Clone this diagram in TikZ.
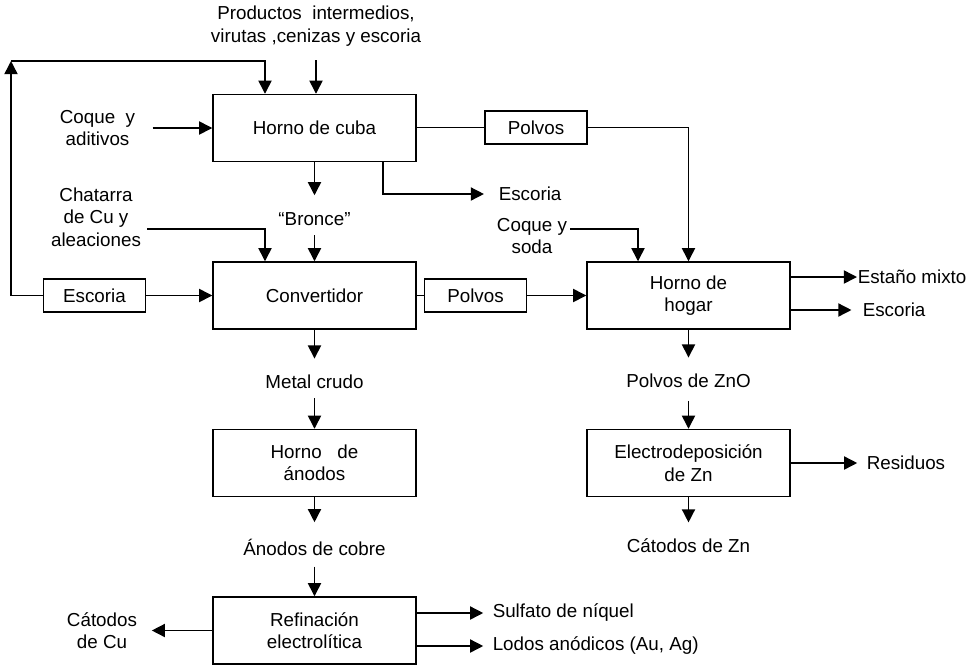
\documentclass[tikz,border=0pt]{standalone}
\usepackage{fontspec}
\setmainfont{Liberation Sans}
\usetikzlibrary{arrows.meta,positioning}

\tikzset{
	proc/.style={draw,minimum width=4.06cm,minimum height=1.34cm,align=center,inner sep=0pt},
	tagbox/.style={draw,minimum width=2.04cm,minimum height=0.66cm,inner sep=0pt},
	txt/.style={align=center,inner sep=0pt},
}

\begin{document}
\begin{tikzpicture}[x=0.02cm,y=-0.02cm,>={Triangle[length=7.5pt,width=7.5pt]},line width=0.85pt,font=\fontsize{10.7}{12.8}\selectfont]
	\useasboundingbox (0,0) rectangle (971,667);
	% cajas de proceso
	\node[proc] (cuba) at (314.5,128) {Horno de cuba};
	\node[proc] (conv) at (314.5,295.5) {Convertidor};
	\node[proc] (anod) at (314.5,463) {Horno\ \ \ de\\ánodos};
	\node[proc] (refi) at (314.5,630.5) {Refinación\\electrolítica};
	\node[proc] (hogar) at (688.5,295.5) {Horno de\\hogar};
	\node[proc] (elec) at (688.5,463) {Electrodeposición\\de Zn};
	\node[tagbox] (polvA) at (536,127.5) {Polvos};
	\node[tagbox] (polvB) at (475.5,295.5) {Polvos};
	\node[tagbox] (escB) at (94.5,295.5) {Escoria};
	% textos
	\node[txt] (prod) at (316,26) {Productos\ \ intermedios,\\virutas ,cenizas y escoria};
	\node[txt] (coqad) at (97.5,128) {Coque\ \ y\\aditivos};
	\node[txt] (chat) at (96,217) {Chatarra\\de Cu y\\aleaciones};
	\node[txt] (bronce) at (314.5,219) {“Bronce”};
	\node[txt] (metal) at (314.5,382) {Metal crudo};
	\node[txt] (anodcu) at (314.5,547) {Ánodos de cobre};
	\node[txt] (catcu) at (102,630.5) {Cátodos\\de Cu};
	\node[txt,anchor=west] (sulf) at (492,613) {Sulfato de níquel};
	\node[txt,anchor=west] (lodos) at (492,646) {Lodos anódicos (Au, Ag)};
	\node[txt,anchor=west] (escC) at (498,194) {Escoria};
	\node[txt] (coqso) at (532,236) {Coque y\\soda};
	\node[txt,anchor=west] (estano) at (857,277) {Estaño mixto};
	\node[txt,anchor=west] (escH) at (862,310) {Escoria};
	\node[txt] (zno) at (688.5,381) {Polvos de ZnO};
	\node[txt,anchor=west] (resid) at (866,463) {Residuos};
	\node[txt] (catzn) at (688.5,546) {Cátodos de Zn};
	% puntos libres
	\coordinate (inP) at (316,60);
	\coordinate (lp) at (11,61);
	\coordinate (inE) at (265,61);
	\coordinate (chE) at (147,229);
	\coordinate (chD) at (265,229);
	\coordinate (escO) at (383,161);
	\coordinate (csE) at (570,229);
	\coordinate (csD) at (638,229);
	% flechas
	\draw[->] (inP) -- (inP |- cuba.north);
	\draw[->] (escB.west) -| (lp);
	\draw[->] (lp) -- (inE) -- (inE |- cuba.north);
	\draw[->,shorten <=9.5pt] (coqad.east) -- (cuba.west);
	\draw (cuba.east |- polvA) -- (polvA.west);
	\draw[->] (polvA.east) -| (hogar.north);
	\draw[->,shorten >=8pt] (escO) |- (escC.west);
	\draw[->] (cuba.south) -- ++(0,33);
	\draw[->,shorten <=5pt] (bronce.south) -- (conv.north);
	\draw[->] (chE) -- (chD) -- (chD |- conv.north);
	\draw[->] (escB.east) -- (conv.west);
	\draw (conv.east) -- (polvB.west);
	\draw[->] (polvB.east) -- (hogar.west);
	\draw[->] (csE) -- (csD) -- (csD |- hogar.north);
	\draw[->] (hogar.east |- estano) -- (estano.west);
	\draw[->,shorten >=6pt] (hogar.east |- escH) -- (escH.west);
	\draw[->,shorten >=9pt] (conv.south) -- (metal.north);
	\draw[->,shorten <=5pt] (metal.south) -- (anod.north);
	\draw[->,shorten >=9pt] (anod.south) -- (anodcu.north);
	\draw[->,shorten <=6pt] (anodcu.south) -- (refi.north);
	\draw[->,shorten >=5pt] (refi.east |- sulf) -- (sulf.west);
	\draw[->,shorten >=5pt] (refi.east |- lodos) -- (lodos.west);
	\draw[->,shorten >=8pt] (refi.west) -- (catcu.east);
	\draw[->,shorten >=9pt] (hogar.south) -- (zno.north);
	\draw[->,shorten <=7pt] (zno.south) -- (elec.north);
	\draw[->,shorten >=5pt] (elec.east) -- (resid.west);
	\draw[->,shorten >=9pt] (elec.south) -- (catzn.north);
\end{tikzpicture}
\end{document}
